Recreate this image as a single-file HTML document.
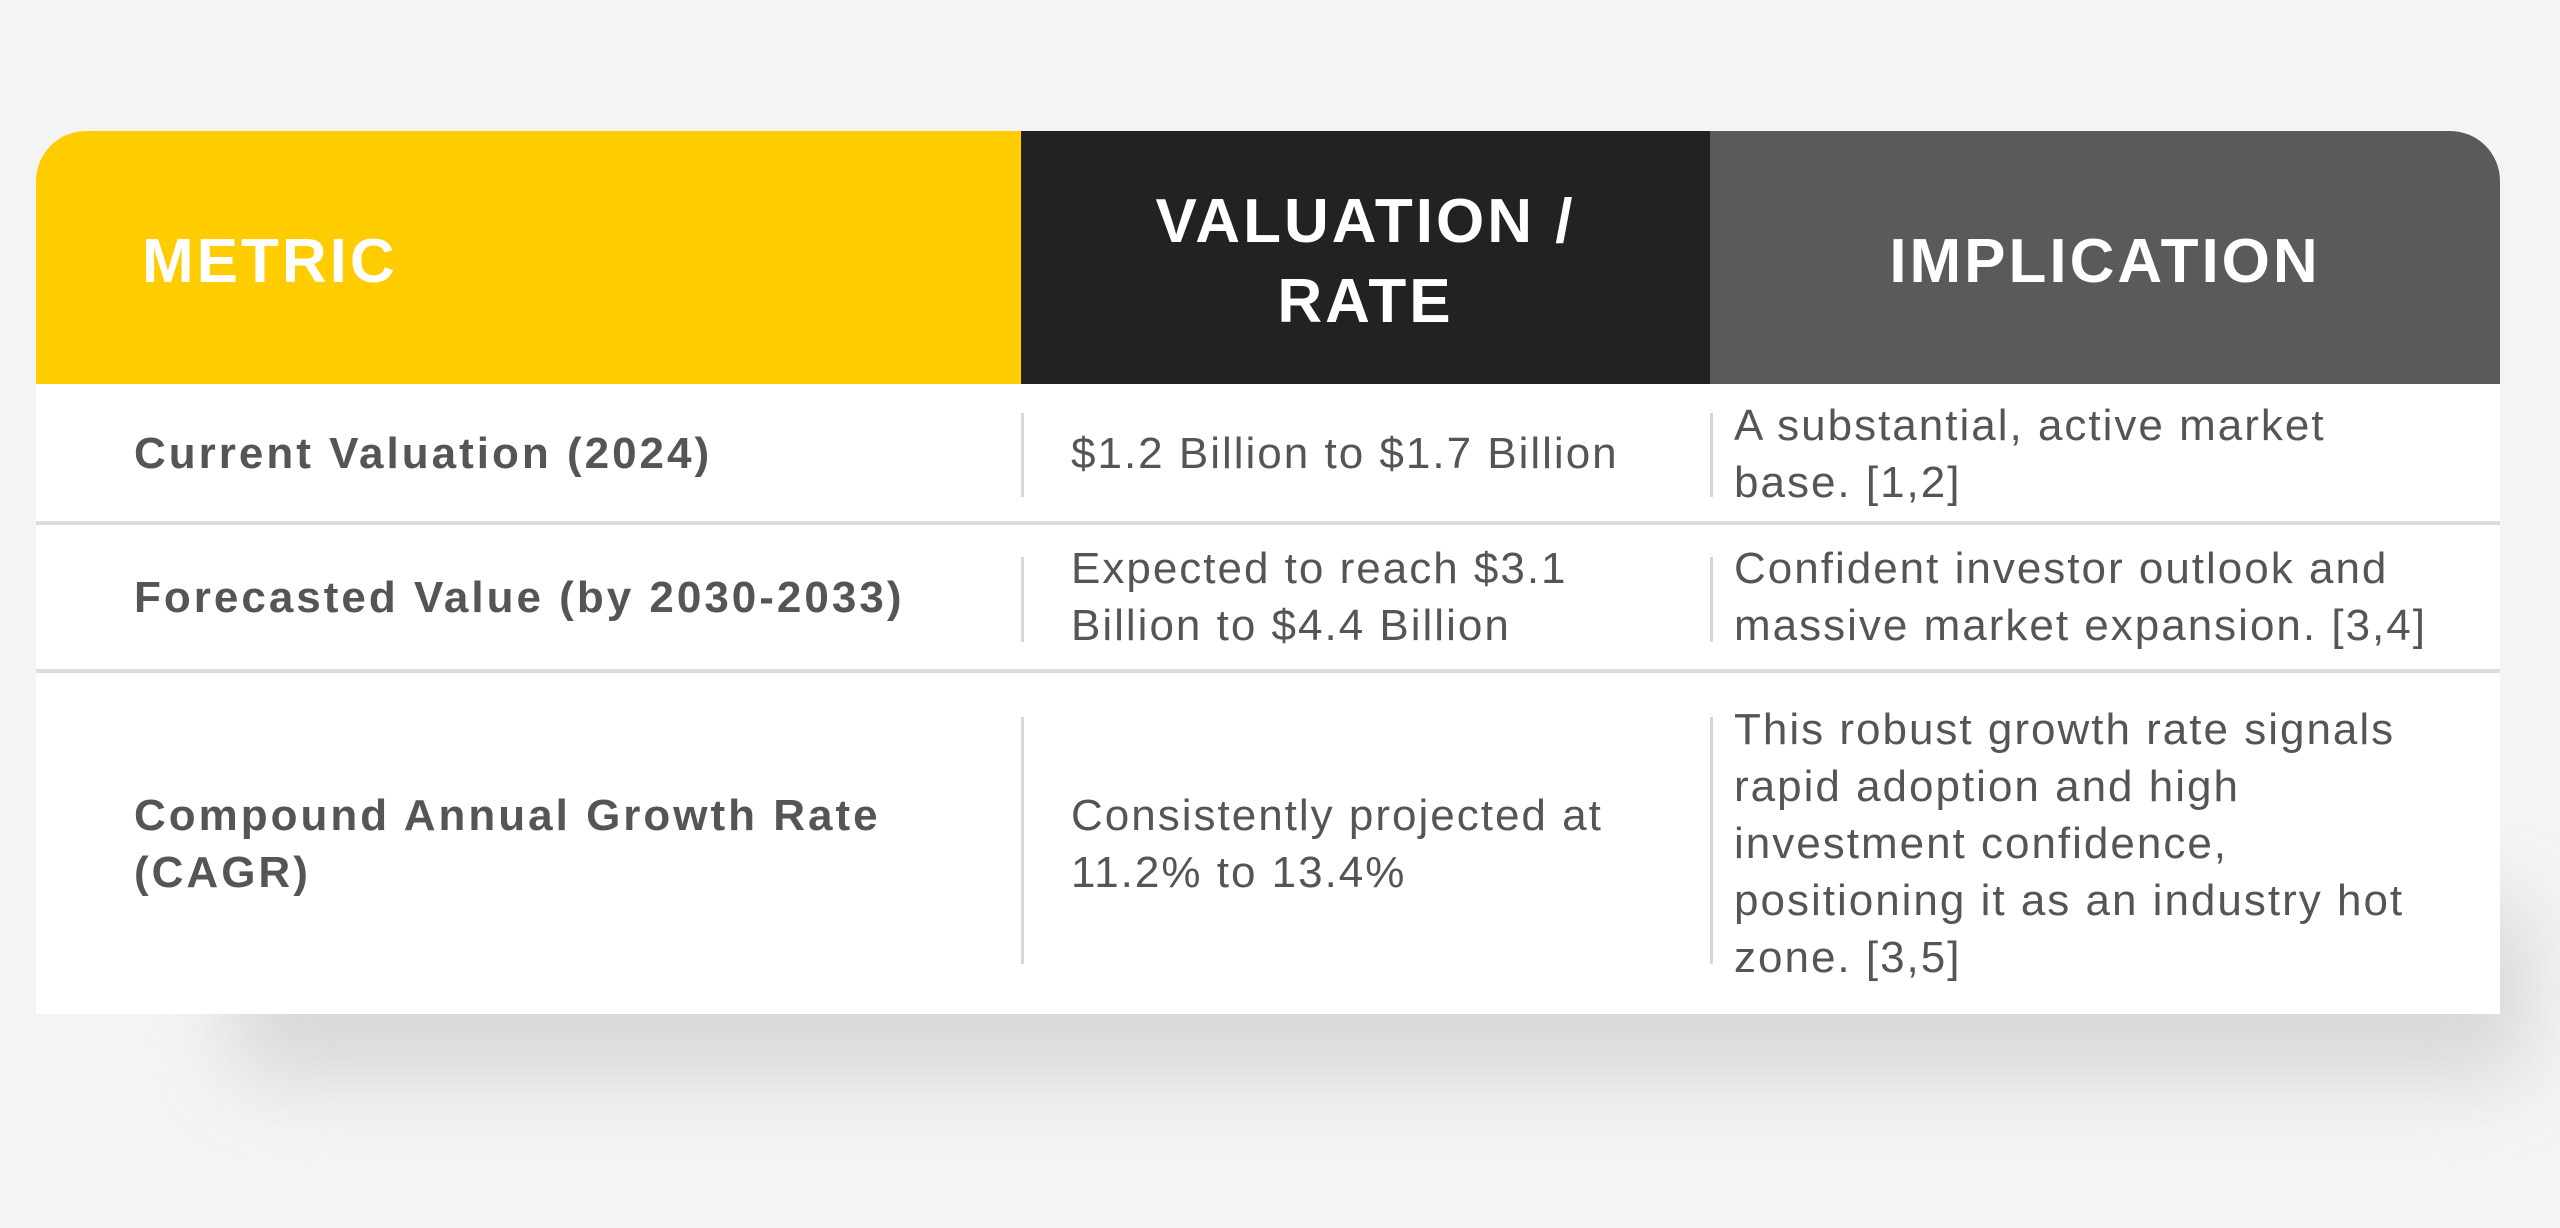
<!DOCTYPE html>
<html><head><meta charset="utf-8"><style>
html,body{margin:0;padding:0;}
body{width:2560px;height:1228px;background:#f4f4f4;position:relative;overflow:hidden;font-family:"Liberation Sans",sans-serif;}
.shadow{position:absolute;left:230px;top:900px;width:2300px;height:180px;background:#d8d8d8;filter:blur(40px);border-radius:40px;}
.tbl{position:absolute;left:36px;top:131px;width:2464px;height:883px;background:#fff;border-radius:50px 50px 0 0;overflow:hidden;}
.h{position:absolute;top:0;height:253px;padding-top:8px;box-sizing:border-box;color:#fff;font-weight:bold;font-size:62px;letter-spacing:3px;display:flex;align-items:center;line-height:80px;}
.div{position:absolute;left:0;width:2464px;height:4px;background:#dcdcdc;}
.c{position:absolute;display:flex;align-items:center;color:#555;font-size:44px;letter-spacing:2px;line-height:57px;white-space:nowrap;}
.b{font-weight:bold;color:#555;font-size:44px;letter-spacing:3px;}
.vl{position:absolute;width:3px;background:#d6d6d6;}
</style></head><body>
<div class="shadow"></div>
<div class="tbl">
  <div class="h" style="left:0;width:985px;background:#ffcc00;padding-left:106px;">METRIC</div>
  <div class="h" style="left:985px;width:689px;background:#222;justify-content:center;text-align:center;">VALUATION /<br>RATE</div>
  <div class="h" style="left:1674px;width:790px;background:#5a5a5a;justify-content:center;">IMPLICATION</div>

  <div class="c b" style="left:98px;top:253px;height:139px;">Current Valuation (2024)</div>
  <div class="vl" style="left:985px;top:282px;height:84px;"></div>
  <div class="c" style="left:1035px;top:253px;height:139px;">$1.2 Billion to $1.7 Billion</div>
  <div class="vl" style="left:1674px;top:282px;height:84px;"></div>
  <div class="c" style="left:1698px;top:253px;height:139px;">A substantial, active market<br>base. [1,2]</div>
  <div class="div" style="top:390px;"></div>

  <div class="c b" style="left:98px;top:394px;height:144px;">Forecasted Value (by 2030-2033)</div>
  <div class="vl" style="left:985px;top:426px;height:85px;"></div>
  <div class="c" style="left:1035px;top:394px;height:144px;">Expected to reach $3.1<br>Billion to $4.4 Billion</div>
  <div class="vl" style="left:1674px;top:426px;height:85px;"></div>
  <div class="c" style="left:1698px;top:394px;height:144px;">Confident investor outlook and<br>massive market expansion. [3,4]</div>
  <div class="div" style="top:538px;"></div>

  <div class="c b" style="left:98px;top:542px;height:341px;">Compound Annual Growth Rate<br>(CAGR)</div>
  <div class="vl" style="left:985px;top:586px;height:247px;"></div>
  <div class="c" style="left:1035px;top:542px;height:341px;">Consistently projected at<br>11.2% to 13.4%</div>
  <div class="vl" style="left:1674px;top:586px;height:247px;"></div>
  <div class="c" style="left:1698px;top:542px;height:341px;">This robust growth rate signals<br>rapid adoption and high<br>investment confidence,<br>positioning it as an industry hot<br>zone. [3,5]</div>
</div>
</body></html>
